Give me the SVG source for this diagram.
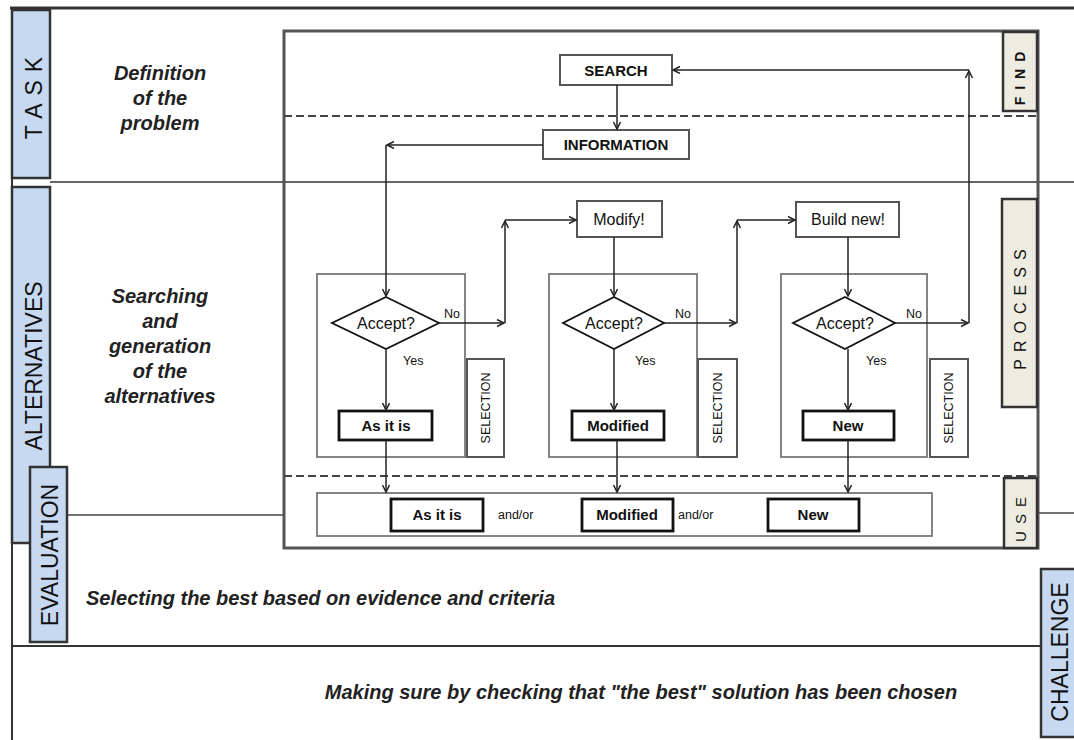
<svg xmlns="http://www.w3.org/2000/svg" width="1074" height="740" viewBox="0 0 1074 740">
<defs>
<marker id="ah" markerWidth="10" markerHeight="10" refX="8" refY="4" orient="auto" markerUnits="userSpaceOnUse">
<path d="M1,0.5 L8,4 L1,7.5" fill="none" stroke="#222" stroke-width="1.5"/>
</marker>
</defs>
<style>
.tabb{fill:#c6d9f1;stroke:#333;stroke-width:2.5}
.tabg{fill:#eeece1;stroke:#333;stroke-width:2.5}
.frame{fill:none;stroke:#555;stroke-width:3}
.line{stroke:#444;stroke-width:1.5;fill:none}
.dash{stroke:#444;stroke-width:2;stroke-dasharray:8,4;fill:none}
.gbox{fill:none;stroke:#777;stroke-width:1.8}
.box{fill:#fff;stroke:#555;stroke-width:2}
.tbox{fill:#fff;stroke:#111;stroke-width:2.8}
.dia{fill:#fff;stroke:#111;stroke-width:1.8}
.conn{stroke:#222;stroke-width:1.5;fill:none;marker-end:url(#ah)}
.t{font-family:"Liberation Sans",Arial,sans-serif;fill:#111}
.it{font-family:"Liberation Sans",Arial,sans-serif;font-style:italic;font-weight:bold;font-size:20px;fill:#222}
.c{text-anchor:middle}
.bx{font-family:"Liberation Sans",Arial,sans-serif;font-weight:bold;font-size:15px;fill:#111;text-anchor:middle}
.nm{font-family:"Liberation Sans",Arial,sans-serif;font-size:16px;fill:#111;text-anchor:middle}
.sm{font-family:"Liberation Sans",Arial,sans-serif;font-size:12.5px;fill:#111}
.sel{font-family:"Liberation Sans",Arial,sans-serif;font-size:12.5px;fill:#111;text-anchor:middle}
.tab{font-family:"Liberation Sans",Arial,sans-serif;font-size:23px;fill:#111;text-anchor:middle}
</style>
<g id="outer">
<line x1="10" y1="8" x2="1074" y2="8" stroke="#333" stroke-width="3"/>
<line x1="12" y1="8" x2="12" y2="740" stroke="#333" stroke-width="2"/>
<line x1="50" y1="182" x2="1074" y2="182" stroke="#666" stroke-width="2"/>
<line x1="67" y1="515" x2="284" y2="515" class="line"/>
<line x1="1038" y1="513" x2="1074" y2="513" class="line"/>
<line x1="12" y1="646" x2="1041" y2="646" stroke="#333" stroke-width="2"/>
</g>
<g id="tab-task"><rect x="12" y="10" width="38" height="168" class="tabb"/><text class="tab" font-size="22" transform="translate(42,94) rotate(-90)" letter-spacing="8">TASK</text></g>
<g id="tab-alternatives"><rect x="12" y="187" width="38" height="356" class="tabb"/><text class="tab" transform="translate(42,366) rotate(-90)">ALTERNATIVES</text></g>
<g id="tab-evaluation"><rect x="30" y="467" width="37" height="175" class="tabb"/><text class="tab" transform="translate(58,555) rotate(-90)">EVALUATION</text></g>
<g id="tab-challenge"><rect x="1041" y="569" width="36" height="168" class="tabb"/><text class="tab" transform="translate(1068,652) rotate(-90)">CHALLENGE</text></g>
<g id="desc">
<text class="it c" x="160" y="80">Definition</text>
<text class="it c" x="160" y="105">of the</text>
<text class="it c" x="160" y="130">problem</text>
<text class="it c" x="160" y="303">Searching</text>
<text class="it c" x="160" y="328">and</text>
<text class="it c" x="160" y="353">generation</text>
<text class="it c" x="160" y="378">of the</text>
<text class="it c" x="160" y="403">alternatives</text>
<text class="it" x="86" y="605">Selecting the best based on evidence and criteria</text>
<text class="it c" x="641" y="699">Making sure by checking that "the best" solution has been chosen</text>
</g>
<g id="inner-frame">
<rect x="284" y="31" width="754" height="517" class="frame"/>
<line x1="284" y1="116" x2="1038" y2="116" class="dash"/>
<line x1="284" y1="476" x2="1038" y2="476" class="dash" stroke="#777"/>
</g>
<g id="tab-find"><rect x="1003" y="32" width="34" height="79" class="tabg"/><text class="t" font-size="14" font-weight="bold" text-anchor="middle" letter-spacing="7" transform="translate(1025,75) rotate(-90)">FIND</text></g>
<g id="tab-process"><rect x="1002" y="199" width="35" height="208" class="tabg"/><text class="t" font-size="16" text-anchor="middle" letter-spacing="7" transform="translate(1026,306) rotate(-90)">PROCESS</text></g>
<g id="tab-use"><rect x="1004" y="478" width="33" height="70" class="tabg"/><text class="t" font-size="15" text-anchor="middle" letter-spacing="7" transform="translate(1026,516) rotate(-90)">USE</text></g>
<g id="search"><rect x="560" y="55" width="112" height="30" class="box"/><text class="bx" x="616" y="76">SEARCH</text></g>
<g id="information"><rect x="543" y="130" width="146" height="29" class="box" stroke-width="2.4"/><text class="bx" x="616" y="150">INFORMATION</text></g>
<g id="group1">
<rect x="317" y="274" width="148" height="183" class="gbox"/>
<rect x="467" y="359" width="37" height="98" class="box" stroke="#333" stroke-width="1.5"/>
<text class="sel" transform="translate(490,408) rotate(-90)">SELECTION</text>
</g>
<g id="accept1"><polygon points="386,297 439,323 386,349 332,323" class="dia"/><text class="nm" x="386" y="329">Accept?</text></g>
<g id="asitis1"><rect x="339" y="411" width="93" height="29" class="tbox"/><text class="bx" x="386" y="431">As it is</text></g>
<g id="modify"><rect x="577" y="201" width="85" height="36" class="box" stroke-width="1.5"/><text class="nm" x="619" y="225">Modify!</text></g>
<g id="group2">
<rect x="549" y="274" width="148" height="183" class="gbox"/>
<rect x="698" y="359" width="39" height="98" class="box" stroke="#333" stroke-width="1.5"/>
<text class="sel" transform="translate(722,408) rotate(-90)">SELECTION</text>
</g>
<g id="accept2"><polygon points="614,297 664,323 614,349 563,323" class="dia"/><text class="nm" x="614" y="329">Accept?</text></g>
<g id="modified1"><rect x="572" y="411" width="92" height="29" class="tbox"/><text class="bx" x="618" y="431">Modified</text></g>
<g id="buildnew"><rect x="796" y="202" width="103" height="35" class="box" stroke-width="1.5"/><text class="nm" x="848" y="225">Build new!</text></g>
<g id="group3">
<rect x="781" y="274" width="146" height="183" class="gbox"/>
<rect x="930" y="359" width="38" height="98" class="box" stroke="#333" stroke-width="1.5"/>
<text class="sel" transform="translate(953,408) rotate(-90)">SELECTION</text>
</g>
<g id="accept3"><polygon points="845,297 895,323 845,349 793,323" class="dia"/><text class="nm" x="845" y="329">Accept?</text></g>
<g id="new1"><rect x="803" y="411" width="91" height="29" class="tbox"/><text class="bx" x="848" y="431">New</text></g>
<g id="result-row">
<rect x="317" y="493" width="615" height="43" class="gbox"/>
<text class="sm" font-size="13.5" x="498" y="519">and/or</text>
<text class="sm" font-size="13.5" x="678" y="519">and/or</text>
</g>
<g id="asitis2"><rect x="391" y="499" width="92" height="32" class="tbox"/><text class="bx" x="437" y="520">As it is</text></g>
<g id="modified2"><rect x="582" y="499" width="91" height="32" class="tbox"/><text class="bx" x="627" y="520">Modified</text></g>
<g id="new2"><rect x="768" y="499" width="91" height="32" class="tbox"/><text class="bx" x="813" y="520">New</text></g>
<g id="labels">
<text class="sm" x="444" y="318">No</text>
<text class="sm" x="403" y="365">Yes</text>
<text class="sm" x="675" y="318">No</text>
<text class="sm" x="635" y="365">Yes</text>
<text class="sm" x="906" y="318">No</text>
<text class="sm" x="866" y="365">Yes</text>
</g>
<g id="connectors">
<line x1="617" y1="85" x2="617" y2="129" class="conn"/>
<line x1="543" y1="145" x2="387" y2="145" class="conn"/>
<line x1="386" y1="145" x2="386" y2="296" class="conn"/>
<line x1="439" y1="323" x2="504" y2="323" class="conn"/>
<line x1="505" y1="323" x2="505" y2="221" class="conn"/>
<line x1="505" y1="220" x2="576" y2="220" class="conn"/>
<line x1="386" y1="349" x2="386" y2="410" class="conn"/>
<line x1="614" y1="237" x2="614" y2="296" class="conn"/>
<line x1="664" y1="323" x2="736" y2="323" class="conn"/>
<line x1="737" y1="323" x2="737" y2="221" class="conn"/>
<line x1="737" y1="220" x2="795" y2="220" class="conn"/>
<line x1="614" y1="349" x2="614" y2="410" class="conn"/>
<line x1="848" y1="237" x2="848" y2="296" class="conn"/>
<line x1="895" y1="323" x2="968" y2="323" class="conn"/>
<line x1="969" y1="323" x2="969" y2="71" class="conn"/>
<line x1="969" y1="70" x2="673" y2="70" class="conn"/>
<line x1="848" y1="349" x2="848" y2="410" class="conn"/>
<line x1="386" y1="440" x2="386" y2="492" class="conn"/>
<line x1="617" y1="440" x2="617" y2="492" class="conn"/>
<line x1="848" y1="440" x2="848" y2="492" class="conn"/>
</g>
</svg>
